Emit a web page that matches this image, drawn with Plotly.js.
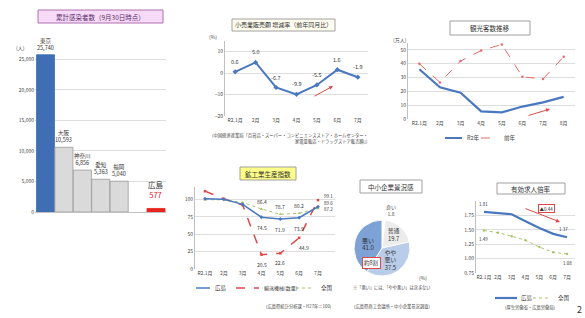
<!DOCTYPE html>
<html><head><meta charset="utf-8">
<script src="https://cdn.plot.ly/plotly-3.0.1.min.js"></script>
<style>html,body{margin:0;padding:0;background:#fff}#c{width:585px;height:318px}</style>
</head><body><div id="c"></div>
<script>
// ---- data ----
const barCats = ['東京','大阪','神奈川','愛知','福岡',' ','広島'];
const barVals = [25740,10593,6856,5363,5040,null,577];
const barTicks = [0,5000,10000,15000,20000,25000];

const retailMonths = ['R2.1月','2月','3月','4月','5月','6月','7月'];
const retailVals = [0.6,5.0,-6.7,-9.9,-5.5,1.6,-1.9];
const retailTicks = [-20,-10,0,10];

const tourMonths = ['R2.1月','2月','3月','4月','5月','6月','7月','8月'];
const tourR2 = [36,23,19,5.5,4.8,9,12,16];
const tourPrev = [40,26.5,42,49.5,54,30.5,29,45];
const tourTicks = [0,10,20,30,40,50];

const iipMonths = ['R2.1月','2月','3月','4月','5月','6月','7月'];
const iipHiroshima = [101.0,100.2,93.0,74.5,71.9,73.9,89.6];
const iipTransport = [112.0,101.0,92.0,20.5,22.6,44.9,99.1];
const iipJapan = [99.8,99.5,95.8,86.4,78.7,80.2,87.2];
const iipTicks = [0,25,50,75,100];

const pieLabels = ['良い','普通','やや悪い','悪い'];
const pieVals = [1.8,19.7,37.5,41.0];

const jobMonths = ['R2.1月','2月','3月','4月','5月','6月','7月'];
const jobHiroshima = [1.81,1.79,1.77,1.65,1.53,1.43,1.37];
const jobJapan = [1.49,1.45,1.39,1.32,1.20,1.11,1.08];
const jobTicks = [0.75,1.00,1.25,1.50,1.75];

// ---- helpers ----
const W=585,H=318;
const px = x => x/W;
const py = y => 1 - y/H;
const FONT = '"Noto Sans CJK JP", "Noto Sans", sans-serif';
const BLUE='#4a78c0', RED='#e04848', GREEN='#a9c46a', GRID='#d6d6d6', TXT='#444';

function xcat(d, anchor, extra){return Object.assign({domain:d, anchor:anchor, type:'category', showgrid:false, showline:true, linecolor:'#c0c0c0', linewidth:1, ticks:'', tickfont:{size:5,color:TXT}, fixedrange:true, zeroline:false}, extra||{});}
function yax(d, anchor, extra){return Object.assign({domain:d, anchor:anchor, showgrid:true, gridcolor:GRID, gridwidth:0.8, zeroline:false, showline:true, linecolor:'#c0c0c0', linewidth:1, ticks:'', tickfont:{size:5,color:TXT}, fixedrange:true}, extra||{});}

const traces = [];
// P1 bars
traces.push({type:'bar', x:barCats, y:barVals, xaxis:'x', yaxis:'y',
  marker:{color:barCats.map(c=>c==='東京'?'#3f6eb5':(c==='広島'?'#e8241c':'#dadada')), line:{color:barCats.map(c=>c==='東京'?'#3f6eb5':(c==='広島'?'#e8241c':'#9a9a9a')), width:0.8}},
  showlegend:false, hoverinfo:'skip'});
// P2 retail
traces.push({type:'scatter', mode:'lines+markers', x:retailMonths, y:retailVals, xaxis:'x2', yaxis:'y2',
  line:{color:BLUE, width:2}, marker:{symbol:'diamond', size:4, color:BLUE}, showlegend:false});
// P3 tourism
traces.push({type:'scatter', mode:'lines+markers', x:tourMonths, y:tourPrev, xaxis:'x3', yaxis:'y3',
  line:{color:'#e86a6a', width:1, dash:'dash'}, marker:{symbol:'circle', size:2.5, color:'#e86a6a'}, showlegend:false});
traces.push({type:'scatter', mode:'lines', x:tourMonths, y:tourR2, xaxis:'x3', yaxis:'y3',
  line:{color:BLUE, width:2.2}, showlegend:false});
// P4 IIP
traces.push({type:'scatter', mode:'lines+markers', x:iipMonths, y:iipJapan, xaxis:'x4', yaxis:'y4',
  line:{color:GREEN, width:1, dash:'dot'}, marker:{symbol:'triangle-up', size:3, color:GREEN}, showlegend:false});
traces.push({type:'scatter', mode:'lines+markers', x:iipMonths, y:iipTransport, xaxis:'x4', yaxis:'y4',
  line:{color:RED, width:1.5, dash:'dash'}, marker:{symbol:'square', size:2.5, color:RED}, showlegend:false});
traces.push({type:'scatter', mode:'lines+markers', x:iipMonths, y:iipHiroshima, xaxis:'x4', yaxis:'y4',
  line:{color:BLUE, width:1.5}, marker:{symbol:'diamond', size:3, color:BLUE}, showlegend:false});
// P5 pie
traces.push({type:'pie', labels:pieLabels, values:pieVals, sort:false, direction:'clockwise', rotation:0,
  domain:{x:[px(354),px(410)], y:[py(276),py(220)]},
  marker:{colors:['#ffffff','#ececec','#b9cce9','#7fa2d6'], line:{color:'#ffffff', width:1}},
  text:pieLabels.map((l,i)=> i===0 ? '' : (l==='やや悪い'?'やや<br>悪い':l)+'<br>'+pieVals[i].toFixed(1)),
  textinfo:'text', textposition:'inside', insidetextorientation:'horizontal',
  textfont:{size:6,color:'#333'}, showlegend:false, hoverinfo:'skip'});
// P6 jobs
traces.push({type:'scatter', mode:'lines+markers', x:jobMonths, y:jobJapan, xaxis:'x5', yaxis:'y5',
  line:{color:GREEN, width:1, dash:'dot'}, marker:{symbol:'circle', size:2.5, color:GREEN}, showlegend:false});
traces.push({type:'scatter', mode:'lines', x:jobMonths, y:jobHiroshima, xaxis:'x5', yaxis:'y5',
  line:{color:BLUE, width:2.2}, showlegend:false});

const ann = [];
const shapes = [];
function box(x0,y0,x1,y1,fill,line,text,size,color){
  shapes.push({type:'rect', xref:'paper', yref:'paper', x0:px(x0), x1:px(x1), y0:py(y1), y1:py(y0), fillcolor:fill, line:{color:line,width:1}});
  ann.push({xref:'paper', yref:'paper', x:px((x0+x1)/2), y:py((y0+y1)/2), text:text, showarrow:false, font:{size:size||6.5,color:color||'#333'}, xanchor:'center', yanchor:'middle'});
}
function txt(x,y,text,size,anchor,color){
  ann.push({xref:'paper', yref:'paper', x:px(x), y:py(y), text:text, showarrow:false, font:{size:size||5,color:color||TXT}, xanchor:anchor||'left', yanchor:'middle'});
}
function arrow(x0,y0,x1,y1){
  ann.push({xref:'paper', yref:'paper', x:px(x1), y:py(y1), ax:x0-x1, ay:y0-y1, axref:'pixel', ayref:'pixel', text:'', showarrow:true, arrowhead:2, arrowsize:0.8, arrowwidth:1, arrowcolor:RED});
}
function legLine(x0,x1,y,color,width,dash){
  shapes.push({type:'line', xref:'paper', yref:'paper', x0:px(x0), x1:px(x1), y0:py(y), y1:py(y), line:{color:color,width:width,dash:dash||'solid'}});
}

// Titles
box(38,10,163,23,'#f7daf7','#b070b0','累計感染者数（9月30日時点）',6.5,'#5a2d6a');
box(232,19,335,31,'#fffdf0','#a0a0a0','小売業販売額 増減率（前年同月比）',6);
box(450,21,530,35,'#ffffff','#a0a0a0','観光客数推移',6.5);
box(240,167,296,180,'#ffff88','#a0a0a0','鉱工業生産指数',6.5);
box(360,180,422,193,'#ffffff','#a0a0a0','中小企業景況感',6.5);
box(497,183,565,194,'#ffffff','#a0a0a0','有効求人倍率',6.5);

// P1 bar labels
barCats.forEach((c,i)=>{
  if(barVals[i]===null) return;
  const big = c==='広島';
  const v = barVals[i].toLocaleString('en-US');
  ann.push({xref:'x', yref:'y', x:c, y:barVals[i], yanchor:'bottom', yshift: big?6:1, showarrow:false,
    text: big ? c+'<br><span style="color:#e8241c">'+v+'</span>' : c+'<br>'+v,
    font:{size: big?7.5:5.5, color:'#333'}});
});
txt(20,48,'(人)',5,'center');

// P2 labels
retailMonths.forEach((m,i)=>{
  ann.push({xref:'x2', yref:'y2', x:m, y:retailVals[i], yanchor:'bottom', yshift:4, showarrow:false, text:retailVals[i].toFixed(1), font:{size:5.5,color:'#333'}});
});
txt(213,37,'(%)',5,'center');
arrow(313,97,333,86);
txt(370,135,'(中国経済産業局「百貨店・スーパー・コンビニエンスストア・ホームセンター・',4.3,'right');
txt(370,141,'家電量販店・ドラッグストア販売額」)',4.3,'right');

// P3
txt(400,40,'(万人)',5,'center');
arrow(527,116,550,109);
legLine(445,462,138,BLUE,2);
txt(465,138,'R2年',5.5,'left');
legLine(481,498,138,'#e86a6a',1,'dash');
txt(502,138,'前年',5.5,'left');

// P4 labels
[3,4,5].forEach(i=>{
  ann.push({xref:'x4', yref:'y4', x:iipMonths[i], y:iipJapan[i], yanchor:'bottom', yshift:2, showarrow:false, text:iipJapan[i].toFixed(1), font:{size:5,color:'#333'}});
  ann.push({xref:'x4', yref:'y4', x:iipMonths[i], y:iipHiroshima[i], yanchor:'top', yshift:-5, showarrow:false, text:iipHiroshima[i].toFixed(1), font:{size:5,color:'#333'}});
  ann.push({xref:'x4', yref:'y4', x:iipMonths[i], y:iipTransport[i], yanchor:'top', yshift:-4, xshift:i===5?5:0, showarrow:false, text:iipTransport[i].toFixed(1), font:{size:5,color:'#333'}});
});
[[iipTransport,4],[iipHiroshima,4],[iipJapan,-1]].forEach(([arr,sh])=>{
  ann.push({xref:'x4', yref:'y4', x:iipMonths[6], y:arr[6], xanchor:'left', yanchor:'middle', xshift:4, yshift:sh, showarrow:false, text:arr[6].toFixed(1), font:{size:4.5,color:'#333'}});
});
legLine(196,210,288,BLUE,1.5);
txt(213,288,'広島',5.5,'left');
legLine(236,259,288,RED,1.5,'dash');
txt(262,288,'輸送機械(数量)',5,'left');
legLine(296,314,288,GREEN,1,'dot');
txt(319,288,'全国',5.5,'left');
txt(334,306,'(広島県統計分析課・H27年＝100)',4.3,'right');

// P5 labels
txt(391,210,pieLabels[0]+'<br>'+pieVals[0].toFixed(1),5,'center');
ann.push({xref:'paper', yref:'paper', x:px(371), y:py(269), text:'約8割', showarrow:false, font:{size:5.5,color:'#333'}, bordercolor:RED, borderwidth:1, borderpad:1, bgcolor:'#ffffff'});
txt(423,277,'(%)',5,'center');
txt(392,287,'※「悪い」には、「やや悪い」は含まない',4.2,'center');
txt(392,306,'(広島県商工会議所・中小企業景況調査)',4.3,'center');

// P6 labels
ann.push({xref:'x5', yref:'y5', x:jobMonths[0], y:jobHiroshima[0], yanchor:'bottom', yshift:3, showarrow:false, text:jobHiroshima[0].toFixed(2), font:{size:4.5,color:'#333'}});
ann.push({xref:'x5', yref:'y5', x:jobMonths[6], y:jobHiroshima[6], yanchor:'bottom', yshift:3, xshift:-4, showarrow:false, text:jobHiroshima[6].toFixed(2), font:{size:4.5,color:'#333'}});
ann.push({xref:'x5', yref:'y5', x:jobMonths[0], y:jobJapan[0], yanchor:'top', yshift:-4, showarrow:false, text:jobJapan[0].toFixed(2), font:{size:4.5,color:'#333'}});
ann.push({xref:'x5', yref:'y5', x:jobMonths[6], y:jobJapan[6], yanchor:'top', yshift:-4, showarrow:false, text:jobJapan[6].toFixed(2), font:{size:4.5,color:'#333'}});
arrow(524,208,560,222);
ann.push({xref:'paper', yref:'paper', x:px(555), y:py(208.5), text:'▲'+(jobHiroshima[0]-jobHiroshima[6]).toFixed(2), showarrow:false, font:{size:4.5,color:'#333'}, bordercolor:RED, borderwidth:1, borderpad:0.5, bgcolor:'#ffffff'});
legLine(495,517,298,BLUE,2.2);
txt(519,298,'広島',5.5,'left');
legLine(533,551,298,GREEN,1,'dot');
txt(556,298,'全国',5.5,'left');
txt(530,307,'(厚生労働省・広島労働局)',4.3,'center');
txt(579,309,'2',9,'center','#333');

const layout = {
  width:W, height:H, margin:{l:0,r:0,t:0,b:0}, paper_bgcolor:'#fff', plot_bgcolor:'rgba(0,0,0,0)',
  font:{family:FONT, size:6, color:TXT}, showlegend:false,
  xaxis: xcat([px(35),px(166)],'y',{showticklabels:false, categoryorder:'array', categoryarray:barCats}),
  yaxis: yax([py(212),py(44)],'x',{range:[0,27500], tickvals:barTicks, tickformat:',', showline:false}),
  bargap:0.02,
  xaxis2: xcat([px(225),px(368)],'y2',{showline:false}),
  yaxis2: yax([py(116),py(41)],'x2',{range:[-20,15], tickvals:retailTicks}),
  xaxis3: xcat([px(408),px(575)],'y3',{showline:false}),
  yaxis3: yax([py(119),py(43)],'x3',{range:[0,55], tickvals:tourTicks}),
  xaxis4: xcat([px(195),px(335)],'y4',{showline:false}),
  yaxis4: yax([py(269),py(187)],'x4',{range:[0,118], tickvals:iipTicks}),
  xaxis5: xcat([px(476),px(575)],'y5',{showline:false}),
  yaxis5: yax([py(273),py(201)],'x5',{range:[0.75,2.0], tickvals:jobTicks, tickformat:'.2f'}),
  shapes:shapes, annotations:ann
};
Plotly.newPlot('c', traces, layout, {staticPlot:true, displayModeBar:false});
</script>
</body></html>
